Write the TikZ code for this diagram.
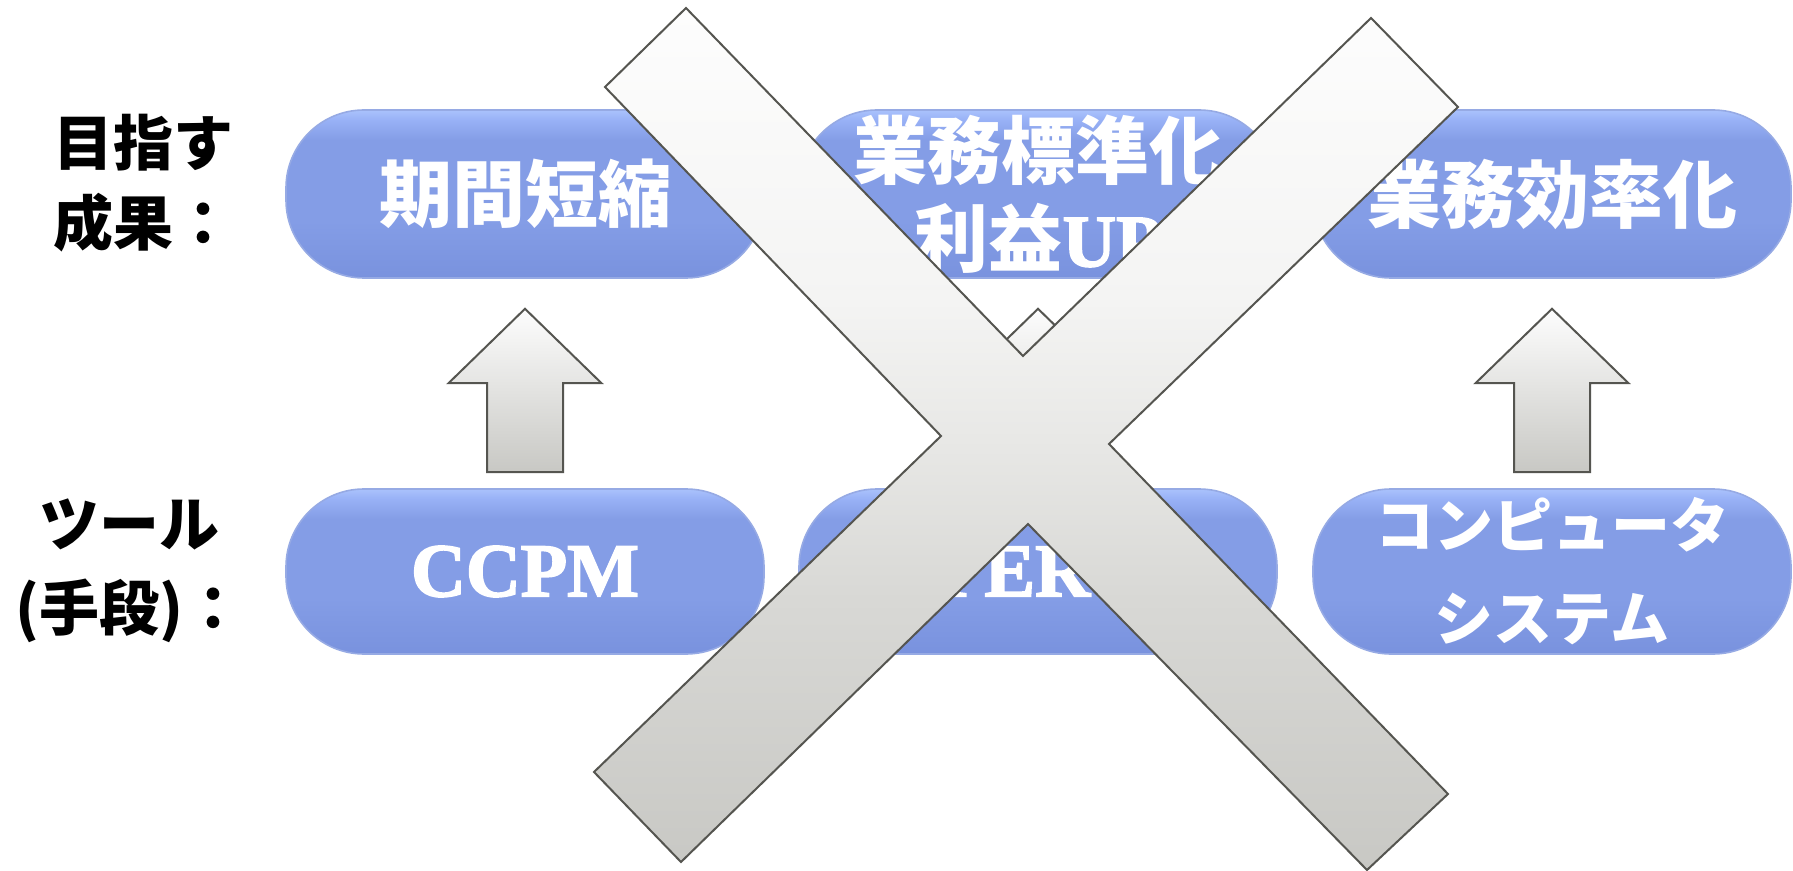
\documentclass[tikz,border=0pt]{standalone}
\usepackage{fontspec}
\newfontfamily\jp{Noto Sans CJK JP}
\newfontfamily\serifb{Liberation Serif}[FakeBold=2.2]
\usetikzlibrary{calc}
\definecolor{pillT}{RGB}{170,194,252}
\definecolor{pillT2}{RGB}{152,177,246}
\definecolor{pillM}{RGB}{132,157,230}
\definecolor{pillB}{RGB}{121,146,222}
\definecolor{pillEdge}{RGB}{150,170,228}
\definecolor{xline}{RGB}{85,85,80}
\definecolor{gA}{RGB}{253,253,253}
\definecolor{gB}{RGB}{244,244,243}
\definecolor{gC}{RGB}{232,232,230}
\definecolor{gD}{RGB}{216,216,213}
\definecolor{gE}{RGB}{200,200,196}
\pgfdeclareverticalshading{pillshade}{100bp}{color(0bp)=(pillB); color(25bp)=(pillB); color(42bp)=(pillM); color(66bp)=(pillM); color(72bp)=(pillT2); color(75bp)=(pillT); color(100bp)=(pillT)}
\pgfdeclareverticalshading{xshade}{100bp}{color(0bp)=(gE); color(25bp)=(gE); color(40.7bp)=(gD); color(50bp)=(gC); color(58bp)=(gB); color(75bp)=(gA); color(100bp)=(gA)}
\tikzset{
  pill/.style={rectangle, rounded corners=39pt, minimum width=239pt, shading=pillshade, draw=pillEdge, line width=0.8pt, text=white, align=center, inner sep=0pt},
  jpbig/.style={font=\jp\bfseries\fontsize{36.5pt}{44pt}\selectfont},
  jpmid/.style={font=\jp\bfseries\fontsize{29.5pt}{46.5pt}\selectfont},
  serbig/.style={font=\serifb\bfseries\fontsize{38pt}{44pt}\selectfont},
  rowlabel/.style={align=center, text=black, inner sep=0pt},
  blockarrow/.style={draw=xline, line width=1pt, top color=gA, bottom color=gE},
  xshape/.style={draw=xline, line width=1pt, shading=xshade}
}
\begin{document}
\begin{tikzpicture}[x=0.5pt,y=-0.5pt]
\useasboundingbox (0,0) rectangle (1793,871);
\fill[white] (0,0) rectangle (1793,871);
% row labels
\node[rowlabel, font=\jp\bfseries\fontsize{30pt}{40pt}\selectfont] (g1) at (143,183) {目指す\\成果：};
\node[rowlabel, font=\jp\bfseries\fontsize{30pt}{42pt}\selectfont] (g2) at (130,571) {ツール\\(手段)：};
% top pills
\node[pill, minimum height=84pt, jpbig] (t1) at (525,194) {期間短縮};
\node[pill, minimum height=84pt, font=\jp\bfseries\fontsize{37pt}{44pt}\selectfont] (t2) at (1038,194) {業務標準化\\利益{\serifb\bfseries UP}};
\node[pill, minimum height=84pt, font=\jp\bfseries\fontsize{37pt}{44pt}\selectfont] (t3) at (1552,194) {業務効率化};
% bottom pills
\node[pill, minimum height=82.5pt, serbig] (b1) at (525,571.5) {CCPM};
\node[pill, minimum height=82.5pt, serbig] (b2) at (1038,571.5) {PERT};
\node[pill, minimum height=82.5pt, jpmid] (b3) at (1552,571.5) {コンピュータ\\システム};
% block arrows
\foreach \n/\m in {b1/t1, b2/t2, b3/t3} {
  \coordinate (\n-tail) at ($(\n.north)+(0,-16)$);
  \coordinate (\m-tip) at ($(\m.south)+(0,30)$);
  \path[blockarrow] ($(\n-tail)+(-38,0)$) -- ($(\n-tail)+(-38,-89)$) -- ($(\n-tail)+(-76.5,-89)$) -- (\m-tip) -- ($(\n-tail)+(76.5,-89)$) -- ($(\n-tail)+(38,-89)$) -- ($(\n-tail)+(38,0)$) -- cycle;
}
% the big cross
\path[xshape] (605,87) -- (686,8) -- (1023,356) -- (1371,18) -- (1458,107) -- (1109,444) -- (1448,794) -- (1367,870) -- (1028,524) -- (681,862) -- (594,772) -- (941,436) -- cycle;
\end{tikzpicture}
\end{document}
